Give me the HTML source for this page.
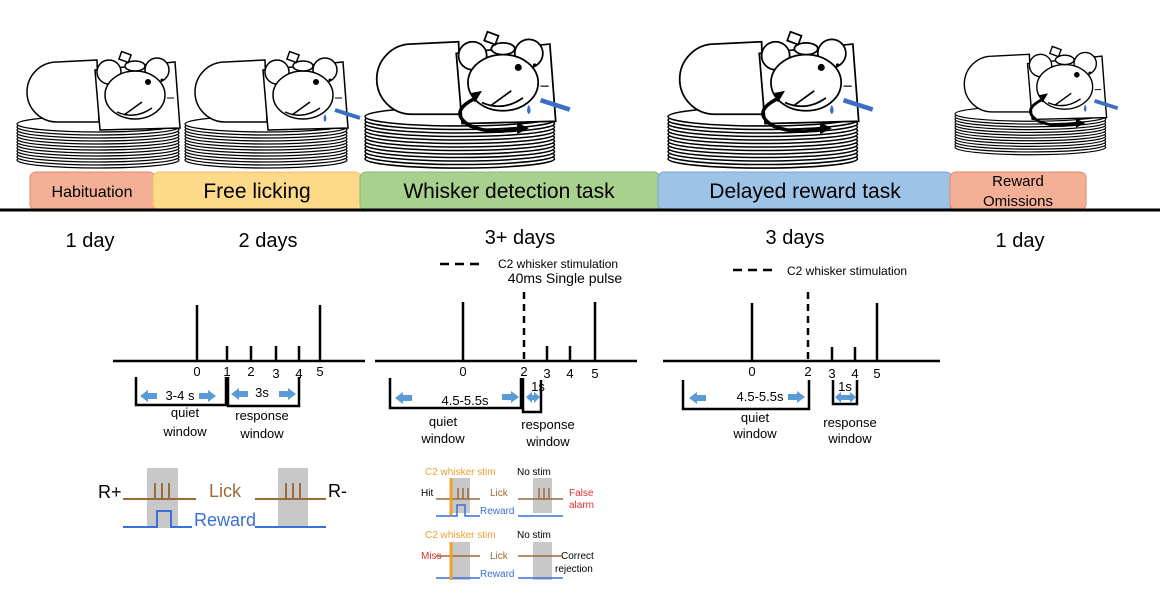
<!DOCTYPE html>
<html><head><meta charset="utf-8"><style>
html,body{margin:0;padding:0;background:#fff;width:1160px;height:605px;overflow:hidden}
text{font-family:"Liberation Sans",sans-serif}
</style></head><body>
<svg width="1160" height="605" viewBox="0 0 1160 605" xmlns="http://www.w3.org/2000/svg">
<defs>
<g id="stack">
  <g fill="#fff" stroke="#000" stroke-width="1.3">
   <ellipse cx="81" cy="110" rx="81" ry="8"/><ellipse cx="81" cy="107" rx="81" ry="8"/>
   <ellipse cx="81" cy="104" rx="81" ry="8"/><ellipse cx="81" cy="101" rx="81" ry="8"/>
   <ellipse cx="81" cy="98" rx="81" ry="8"/><ellipse cx="81" cy="95" rx="81" ry="8"/>
   <ellipse cx="81" cy="92" rx="81" ry="8"/><ellipse cx="81" cy="89" rx="81" ry="8"/>
   <ellipse cx="81" cy="86" rx="81" ry="8"/><ellipse cx="81" cy="83" rx="81" ry="8"/>
   <ellipse cx="81" cy="80" rx="81" ry="8"/><ellipse cx="81" cy="77" rx="81" ry="8"/>
   <ellipse cx="81" cy="74" rx="81" ry="8"/>
  </g>
</g>
<g id="mouse">
  <use href="#stack"/>
  <g fill="#fff" stroke="#000" stroke-width="1.5">
   <path d="M80 10 L40 12 A30 30 0 0 0 40 72 L82 72 Z"/>
   <polygon points="78,20 158,12 163,78 83,80"/>
   <circle cx="92" cy="22" r="12"/><circle cx="140" cy="20" r="12"/>
   <ellipse cx="118" cy="45" rx="30" ry="24"/>
   <path d="M100 62 Q118 70 135 58"/>
   <ellipse cx="118" cy="16" rx="10" ry="5"/>
   <rect x="103" y="3" width="10" height="8" transform="rotate(20 108 7)"/>
  </g>
  <circle cx="131" cy="32" r="3"/>
  <circle cx="145" cy="30" r="1.5"/>
  <line x1="107" y1="65" x2="125" y2="52" stroke="#000" stroke-width="1.5"/>
  <line x1="150" y1="48" x2="157" y2="48" stroke="#000" stroke-width="1"/>
</g>
<g id="spout">
  <line x1="150" y1="60" x2="175" y2="68" stroke="#3b6fc4" stroke-width="4"/>
  <path d="M140 64 q-3 5 0 8 q3 -3 0 -8z" fill="#3b6fc4"/>
</g>
<g id="arrows">
  <path d="M95 58 Q70 70 90 82 Q110 90 130 84" fill="none" stroke="#000" stroke-width="3"/>
  <polygon points="130,79 140,84 130,89" fill="#000"/>
  <polygon points="90,54 100,52 94,62" fill="#000"/>
</g>
</defs>

<g transform="translate(17,50)"><use href="#mouse"/></g>
<g transform="translate(185,50)"><use href="#mouse"/><use href="#spout"/></g>
<g transform="translate(365,30) scale(1.17)"><use href="#mouse"/><use href="#spout"/><use href="#arrows"/></g>
<g transform="translate(668,30) scale(1.17)"><use href="#mouse"/><use href="#spout"/><use href="#arrows"/></g>
<g transform="translate(955,45) scale(0.93)"><use href="#mouse"/><use href="#spout"/><use href="#arrows"/></g>

<!-- phase bars -->
<rect x="30" y="172" width="125" height="38" rx="6" fill="#f4b097" stroke="#e0876a"/>
<rect x="153" y="172" width="208" height="38" rx="6" fill="#fdd98a" stroke="#f0c060"/>
<rect x="360" y="172" width="300" height="38" rx="6" fill="#a9d18e" stroke="#86b96a"/>
<rect x="658" y="172" width="294" height="38" rx="6" fill="#9dc3e6" stroke="#7aa6d0"/>
<rect x="950" y="172" width="136" height="38" rx="6" fill="#f4b097" stroke="#e0876a"/>
<text x="92" y="197" font-size="16" text-anchor="middle">Habituation</text>
<text x="257" y="198" font-size="21" text-anchor="middle">Free licking</text>
<text x="509" y="198" font-size="21" text-anchor="middle">Whisker detection task</text>
<text x="805" y="198" font-size="21" text-anchor="middle">Delayed reward task</text>
<text x="1018" y="186" font-size="15" text-anchor="middle">Reward</text>
<text x="1018" y="206" font-size="15" text-anchor="middle">Omissions</text>
<line x1="0" y1="210" x2="1160" y2="210" stroke="#000" stroke-width="3"/>

<g font-size="20" text-anchor="middle">
<text x="90" y="247">1 day</text><text x="268" y="247">2 days</text>
<text x="520" y="244">3+ days</text><text x="795" y="244">3 days</text>
<text x="1020" y="247">1 day</text>
</g>

<g stroke="#000" stroke-width="2.5" fill="none">
<!-- timeline 1 -->
<line x1="113" y1="361" x2="365" y2="361"/>
<line x1="197" y1="305" x2="197" y2="361"/><line x1="320" y1="305" x2="320" y2="361"/>
<line x1="227" y1="346" x2="227" y2="361"/><line x1="251" y1="346" x2="251" y2="361"/>
<line x1="276" y1="346" x2="276" y2="361"/><line x1="299" y1="346" x2="299" y2="361"/>
<polyline points="136,377 136,405 226,405 226,377"/>
<polyline points="228,377 228,406 299,406 299,377"/>
<!-- timeline 2 -->
<line x1="375" y1="361" x2="637" y2="361"/>
<line x1="463" y1="302" x2="463" y2="361"/><line x1="595" y1="302" x2="595" y2="361"/>
<line x1="547" y1="346" x2="547" y2="361"/><line x1="570" y1="346" x2="570" y2="361"/>
<line x1="524" y1="292" x2="524" y2="361" stroke-dasharray="7,5"/>
<line x1="440" y1="264" x2="482" y2="264" stroke-dasharray="9,6"/>
<polyline points="390,378 390,408 521,408 521,378"/>
<polyline points="523,378 523,412 541,412 541,380"/>
<!-- timeline 3 -->
<line x1="663" y1="361" x2="940" y2="361"/>
<line x1="752" y1="303" x2="752" y2="361"/><line x1="877" y1="303" x2="877" y2="361"/>
<line x1="832" y1="347" x2="832" y2="361"/><line x1="855" y1="347" x2="855" y2="361"/>
<line x1="808" y1="292" x2="808" y2="361" stroke-dasharray="7,5"/>
<line x1="733" y1="270" x2="775" y2="270" stroke-dasharray="9,6"/>
<polyline points="683,380 683,409 809,409 809,380"/>
<polyline points="833,380 833,404 857,404 857,380"/>
</g>

<g font-size="13" text-anchor="middle">
<text x="197" y="376">0</text><text x="227" y="376">1</text><text x="251" y="376">2</text>
<text x="276" y="378">3</text><text x="299" y="378">4</text><text x="320" y="376">5</text>
<text x="463" y="376">0</text><text x="524" y="376">2</text><text x="547" y="378">3</text>
<text x="570" y="378">4</text><text x="595" y="378">5</text>
<text x="752" y="376">0</text><text x="808" y="376">2</text><text x="832" y="378">3</text>
<text x="855" y="378">4</text><text x="877" y="378">5</text>
<text x="180" y="400">3-4 s</text><text x="262" y="397">3s</text>
<text x="185" y="417">quiet</text><text x="185" y="436">window</text>
<text x="262" y="420">response</text><text x="262" y="438">window</text>
<text x="465" y="405">4.5-5.5s</text><text x="538" y="391">1s</text>
<text x="443" y="426">quiet</text><text x="443" y="443">window</text>
<text x="548" y="429">response</text><text x="548" y="446">window</text>
<text x="760" y="401">4.5-5.5s</text><text x="845" y="391">1s</text>
<text x="755" y="422">quiet</text><text x="755" y="438">window</text>
<text x="850" y="427">response</text><text x="850" y="443">window</text>
</g>
<text x="498" y="268" font-size="12">C2 whisker stimulation</text>
<text x="565" y="283" font-size="14" text-anchor="middle">40ms Single pulse</text>
<text x="787" y="275" font-size="12">C2 whisker stimulation</text>

<!-- blue arrows -->
<g fill="#5b9bd5">
<polygon points="140,396 148,390 148,393 157,393 157,399 148,399 148,402"/>
<polygon points="216,396 208,390 208,393 199,393 199,399 208,399 208,402"/>
<polygon points="231,394 239,388 239,391 248,391 248,397 239,397 239,400"/>
<polygon points="296,394 288,388 288,391 279,391 279,397 288,397 288,400"/>
<polygon points="395,398 403,392 403,395 412,395 412,401 403,401 403,404"/>
<polygon points="519,397 511,391 511,394 502,394 502,400 511,400 511,403"/>
<polygon points="526,397 532,392 532,395 534,395 534,400 532,400 532,403"/>
<polygon points="540,397 534,392 534,395 532,395 532,400 534,400 534,403"/>
<polygon points="689,398 697,392 697,395 706,395 706,401 697,401 697,404"/>
<polygon points="805,397 797,391 797,394 788,394 788,400 797,400 797,403"/>
<polygon points="835,397 841,392 841,395 849,395 849,400 841,400 841,403"/>
<polygon points="856,397 850,392 850,395 848,395 848,400 850,400 850,403"/>
</g>

<!-- R+/R- panel -->
<rect x="147" y="468" width="31" height="60" fill="#c8c8c8"/>
<rect x="278" y="468" width="30" height="60" fill="#c8c8c8"/>
<g stroke="#9b6a3a" stroke-width="2">
<line x1="123" y1="499" x2="196" y2="499"/><line x1="155" y1="483" x2="155" y2="499"/>
<line x1="162" y1="483" x2="162" y2="499"/><line x1="169" y1="483" x2="169" y2="499"/>
<line x1="255" y1="499" x2="326" y2="499"/><line x1="286" y1="483" x2="286" y2="499"/>
<line x1="293" y1="483" x2="293" y2="499"/><line x1="300" y1="483" x2="300" y2="499"/>
</g>
<g stroke="#3a6fd8" stroke-width="2" fill="none">
<polyline points="123,527 157,527 157,511 171,511 171,527 192,527"/>
<line x1="255" y1="527" x2="326" y2="527"/>
</g>
<text x="98" y="498" font-size="18">R+</text><text x="328" y="497" font-size="18">R-</text>
<text x="209" y="497" font-size="18" fill="#9b6a3a">Lick</text>
<text x="194" y="526" font-size="18" fill="#3a6fd8">Reward</text>

<!-- small panels -->
<g font-size="10">
<text x="425" y="475" fill="#f0a030">C2 whisker stim</text><text x="517" y="475">No stim</text>
<text x="421" y="496">Hit</text><text x="490" y="496" fill="#9b6a3a">Lick</text>
<text x="480" y="514" fill="#3a6fd8">Reward</text>
<text x="569" y="496" fill="#e03030">False</text><text x="569" y="508" fill="#e03030">alarm</text>
<text x="425" y="538" fill="#f0a030">C2 whisker stim</text><text x="517" y="538">No stim</text>
<text x="421" y="559" fill="#e03030">Miss</text><text x="490" y="559" fill="#9b6a3a">Lick</text>
<text x="480" y="577" fill="#3a6fd8">Reward</text>
<text x="561" y="559">Correct</text><text x="555" y="572">rejection</text>
</g>
<rect x="450" y="478" width="20" height="35" fill="#c8c8c8"/>
<rect x="533" y="478" width="19" height="35" fill="#c8c8c8"/>
<rect x="450" y="542" width="20" height="38" fill="#c8c8c8"/>
<rect x="533" y="542" width="19" height="38" fill="#c8c8c8"/>
<g stroke="#9b6a3a" stroke-width="1.5">
<line x1="436" y1="499" x2="480" y2="499"/><line x1="518" y1="499" x2="563" y2="499"/>
<line x1="458" y1="488" x2="458" y2="499"/><line x1="463" y1="488" x2="463" y2="499"/><line x1="468" y1="488" x2="468" y2="499"/>
<line x1="539" y1="488" x2="539" y2="499"/><line x1="544" y1="488" x2="544" y2="499"/><line x1="549" y1="488" x2="549" y2="499"/>
<line x1="436" y1="556" x2="480" y2="556"/><line x1="518" y1="556" x2="563" y2="556"/>
</g>
<g stroke="#3a6fd8" stroke-width="1.5" fill="none">
<polyline points="436,516 457,516 457,505 465,505 465,516 480,516"/>
<line x1="518" y1="516" x2="563" y2="516"/>
<line x1="436" y1="578" x2="480" y2="578"/><line x1="518" y1="578" x2="563" y2="578"/>
</g>
<line x1="451" y1="478" x2="451" y2="515" stroke="#f0a030" stroke-width="3"/>
<line x1="451" y1="542" x2="451" y2="580" stroke="#f0a030" stroke-width="3"/>
</svg>
</body></html>
